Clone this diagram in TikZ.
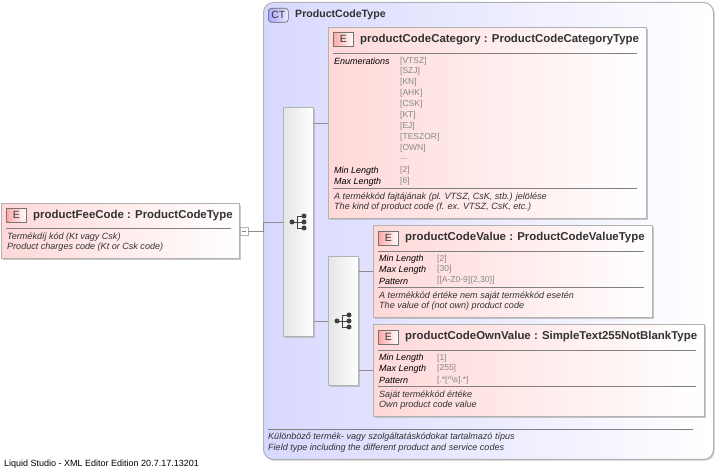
\documentclass[tikz,border=0pt]{standalone}
\usepackage{fontspec}
\setmainfont{Liberation Sans}
\usetikzlibrary{positioning,shadows}

\definecolor{ctblue}{RGB}{216,216,255}
\definecolor{elempink}{RGB}{255,216,216}
\definecolor{edgegrey}{RGB}{178,178,178}
\definecolor{valgrey}{RGB}{135,135,135}
\definecolor{inkgrey}{RGB}{50,50,50}

\tikzset{
  elembox/.style={draw=edgegrey, line width=1pt, left color=elempink, right color=white, anchor=north west, inner sep=0pt, drop shadow={shadow xshift=1.2pt, shadow yshift=-1.2pt, fill=black!30, opacity=0.7}},
  seqbox/.style={draw=edgegrey, line width=1pt, left color=black!10, right color=white, shading angle=90, anchor=north west, inner sep=0pt, drop shadow={shadow xshift=1.2pt, shadow yshift=-1.2pt, fill=black!30, opacity=0.7}},
  badge/.style={draw=black!55, line width=0.6pt, left color=red!35, right color=white, anchor=north west, minimum width=20pt, minimum height=14pt, inner sep=0pt, font=\fontsize{10.5}{10.5}\selectfont, text=inkgrey},
  headtxt/.style={anchor=west, inner sep=0pt, yshift=-1.5pt, text=inkgrey, font=\fontsize{11.42}{11.42}\bfseries\selectfont},
  facttxt/.style={anchor=west, inner sep=0pt, yshift=-1pt, text=black, font=\fontsize{9}{9}\itshape\selectfont},
  valtxt/.style={anchor=west, inner sep=0pt, yshift=-1pt, text=valgrey, font=\fontsize{8.5}{8.5}\selectfont},
  doctxt/.style={anchor=west, inner sep=0pt, yshift=-1pt, text=inkgrey, font=\fontsize{9.05}{9.05}\itshape\selectfont},
  rulerline/.style={draw=black!50, line width=0.7pt},
  linkline/.style={draw=black!45, line width=0.6pt}
}

% sequence icon: dot, stem and three small dots
\newcommand{\seqicon}[2]{%
  \fill[black!75] (#1-6,#2) circle (2.5);
  \draw[black!75, line width=0.9pt] (#1-6,#2) -- (#1-1,#2) (#1-1,#2-6) -- (#1-1,#2+6) (#1-1,#2-6) -- (#1+6,#2-6) (#1-1,#2) -- (#1+6,#2) (#1-1,#2+6) -- (#1+6,#2+6);
  \fill[black!75] (#1+6,#2-6) circle (2.5) (#1+6,#2) circle (2.5) (#1+6,#2+6) circle (2.5);
}

\begin{document}
\begin{tikzpicture}[x=1pt,y=-1pt]
\useasboundingbox (0,0) rectangle (716,470);

% Complex type frame
\node[draw=edgegrey, line width=1pt, rounded corners=10pt, left color=ctblue, right color=white, anchor=north west, inner sep=0pt, minimum width=450pt, minimum height=457pt, drop shadow={shadow xshift=1.2pt, shadow yshift=-1.2pt, fill=black!30, opacity=0.7}] (ctBox) at (263,2) {};
\node[draw=black!60, line width=0.6pt, rounded corners=3pt, left color=blue!35, right color=blue!8, anchor=north west, minimum width=20pt, minimum height=14pt, inner sep=0pt, font=\fontsize{10.5}{10.5}\selectfont, text=inkgrey] (ctBadge) at (268,8) {CT};
\node[headtxt, font=\fontsize{10.6}{11}\bfseries\selectfont] (ctTitle) at (295,13) {ProductCodeType};
\draw[rulerline] (268,429) -- (693,429);
\node[doctxt] (ctDocA) at (268,436) {Különböző termék- vagy szolgáltatáskódokat tartalmazó típus};
\node[doctxt] (ctDocB) at (268,447) {Field type including the different product and service codes};

% Root element
\node[elembox, minimum width=238pt, minimum height=55pt] (rootBox) at (1,203) {};
\node[badge] (rootBadge) at (6,208) {E};
\node[headtxt] (rootHead) at (33,214) {productFeeCode : ProductCodeType};
\draw[rulerline] (6,228) -- (231,228);
\node[doctxt] (rootDocA) at (7,236) {Termékdíj kód (Kt vagy Csk)};
\node[doctxt] (rootDocB) at (7,246) {Product charges code (Kt or Csk code)};
\node[draw=edgegrey, fill=white, anchor=west, minimum width=8pt, minimum height=8pt, inner sep=0pt, line width=0.6pt] (rootExpand) at (239.5,231) {};
\draw[black!50, line width=0.6pt] (241.5,231) -- (245.5,231);

% Sequence blocks
\node[seqbox, minimum width=30pt, minimum height=229pt] (seqMain) at (283,107) {};
\node[seqbox, minimum width=30pt, minimum height=129pt] (seqSub) at (328,256) {};
\seqicon{298}{222}
\seqicon{343}{321}

% Category element
\node[elembox, minimum width=318pt, minimum height=191pt] (catBox) at (328,27) {};
\node[badge] (catBadge) at (333,32) {E};
\node[headtxt] (catHead) at (360,38) {productCodeCategory : ProductCodeCategoryType};
\draw[rulerline] (333,53) -- (637,53);
\node[facttxt] (catEnum) at (334,60) {Enumerations};
\foreach \ename/\ey in {VTSZ/60,SZJ/70,KN/81,AHK/92,CSK/103,KT/114,EJ/125,TESZOR/136,OWN/147}
  \node[valtxt] (enum\ey) at (400,\ey) {[\ename]};
\node[valtxt] (enumMore) at (400,158) {...};
\node[facttxt] (catMin) at (334,170) {Min Length};
\node[valtxt] (catMinVal) at (400,169) {[2]};
\node[facttxt] (catMax) at (334,181) {Max Length};
\node[valtxt] (catMaxVal) at (400,180) {[6]};
\draw[rulerline] (333,188) -- (637,188);
\node[doctxt] (catDocA) at (334,196) {A termékkód fajtájának (pl. VTSZ, CsK, stb.) jelölése};
\node[doctxt] (catDocB) at (334,206) {The kind of product code (f. ex. VTSZ, CsK, etc.)};

% Value element
\node[elembox, minimum width=279pt, minimum height=92pt] (valBox) at (373,225) {};
\node[badge] (valBadge) at (378,231) {E};
\node[headtxt] (valHead) at (405,236) {productCodeValue : ProductCodeValueType};
\draw[rulerline] (378,251) -- (644,251);
\node[facttxt] (valMin) at (379,258) {Min Length};
\node[valtxt] (valMinVal) at (437,258) {[2]};
\node[facttxt] (valMax) at (379,269) {Max Length};
\node[valtxt] (valMaxVal) at (437,268) {[30]};
\node[facttxt] (valPat) at (379,280) {Pattern};
\node[valtxt] (valPatVal) at (437,279) {[[A-Z0-9]\{2,30\}]};
\draw[rulerline] (378,287) -- (644,287);
\node[doctxt] (valDocA) at (379,295) {A termékkód értéke nem saját termékkód esetén};
\node[doctxt] (valDocB) at (379,305) {The value of (not own) product code};

% Own value element
\node[elembox, minimum width=331pt, minimum height=92pt] (ownBox) at (373,324) {};
\node[badge] (ownBadge) at (378,330) {E};
\node[headtxt] (ownHead) at (405,335) {productCodeOwnValue : SimpleText255NotBlankType};
\draw[rulerline] (378,350) -- (696,350);
\node[facttxt] (ownMin) at (379,357) {Min Length};
\node[valtxt] (ownMinVal) at (437,357) {[1]};
\node[facttxt] (ownMax) at (379,368) {Max Length};
\node[valtxt] (ownMaxVal) at (437,367) {[255]};
\node[facttxt] (ownPat) at (379,379) {Pattern};
\node[valtxt] (ownPatVal) at (437,379) {[.*[\textasciicircum\textbackslash s].*]};
\draw[rulerline] (378,386) -- (696,386);
\node[doctxt] (ownDocA) at (379,394) {Saját termékkód értéke};
\node[doctxt] (ownDocB) at (379,404) {Own product code value};

% Connectors
\draw[linkline] (rootExpand.east) -- (ctBox.west |- rootExpand.east) -- (ctBox.west |- seqMain.west) -- (seqMain.west);
\draw[linkline] (seqMain.east |- catBox.west) -- (catBox.west);
\draw[linkline] (seqMain.east |- seqSub.west) -- (seqSub.west);
\draw[linkline] (seqSub.east |- valBox.west) -- (valBox.west);
\draw[linkline] (seqSub.east |- ownBox.west) -- (ownBox.west);

% Footer
\node[anchor=west, inner sep=0pt, text=black, font=\fontsize{9}{9}\selectfont] (footNote) at (4,464) {Liquid Studio - XML Editor Edition 20.7.17.13201};

\end{tikzpicture}
\end{document}
